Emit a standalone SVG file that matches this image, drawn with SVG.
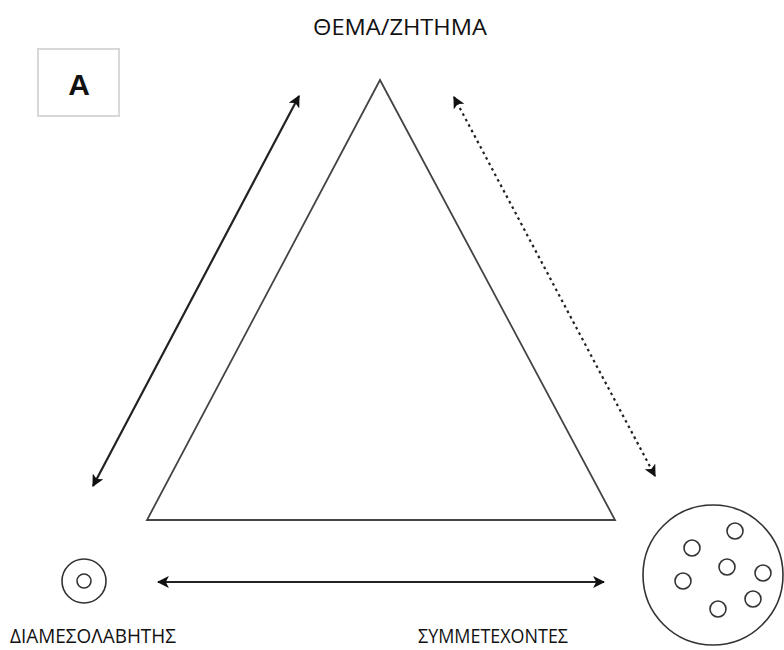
<svg xmlns="http://www.w3.org/2000/svg" width="784" height="650" viewBox="0 0 784 650">
<style>
.lbl{font-family:"Open Sans","Noto Sans","Liberation Sans",sans-serif;font-size:20.5px;fill:#111}
.ln{stroke:#222;stroke-width:2.2;fill:none}
.ring{stroke:#333;stroke-width:1.6;fill:none}
</style>
<defs>
<marker id="ah" viewBox="0 0 10 10" refX="9" refY="5" markerWidth="5.5" markerHeight="5.5" orient="auto-start-reverse" markerUnits="strokeWidth">
<path d="M0,0 L10,5 L0,10 L2.5,5 Z" fill="#111"/>
</marker>
</defs>
<rect width="784" height="650" fill="#fff"/>
<g id="badge">
<rect x="38" y="49" width="81" height="67" fill="#fff" stroke="#d8d8d8" stroke-width="2"/>
<text x="79" y="95" text-anchor="middle" style="font-family:'Liberation Sans',Arial,sans-serif;font-weight:bold;font-size:30px;fill:#111">A</text>
</g>
<g id="topic">
<polygon points="380,80 147,520 615,520" fill="none" stroke="#444" stroke-width="1.8"/>
<text class="lbl" x="313" y="35" textLength="174" lengthAdjust="spacingAndGlyphs" style="font-size:21.5px">ΘΕΜΑ/ΖΗΤΗΜΑ</text>
</g>
<g id="mediator">
<circle class="ring" cx="84" cy="581" r="22"/>
<circle class="ring" cx="84" cy="581" r="7"/>
<text class="lbl" x="10" y="643" textLength="166" lengthAdjust="spacingAndGlyphs">ΔΙΑΜΕΣΟΛΑΒΗΤΗΣ</text>
</g>
<g id="participants">
<circle class="ring" cx="713" cy="575" r="70"/>
<circle class="ring" cx="735" cy="531" r="8"/>
<circle class="ring" cx="692" cy="548" r="8"/>
<circle class="ring" cx="727" cy="567" r="8"/>
<circle class="ring" cx="683" cy="581" r="8"/>
<circle class="ring" cx="763" cy="573" r="8"/>
<circle class="ring" cx="753" cy="599" r="8"/>
<circle class="ring" cx="718" cy="609" r="8"/>
<text class="lbl" x="418" y="643" textLength="150" lengthAdjust="spacingAndGlyphs">ΣΥΜΜΕΤΕΧΟΝΤΕΣ</text>
</g>
<g id="connectors">
<line class="ln" x1="93" y1="486" x2="299" y2="96" marker-start="url(#ah)" marker-end="url(#ah)"/>
<line class="ln" x1="454" y1="97" x2="655" y2="476" stroke-width="2.6" stroke-dasharray="2.6 3.6" marker-start="url(#ah)" marker-end="url(#ah)"/>
<line class="ln" x1="158" y1="582" x2="604" y2="582" stroke-width="2.8" marker-start="url(#ah)" marker-end="url(#ah)"/>
</g>
</svg>
